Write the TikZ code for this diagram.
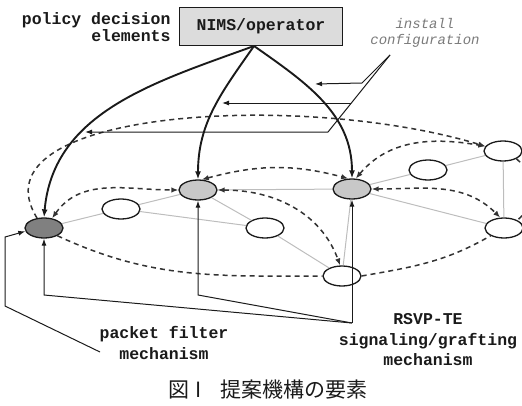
\documentclass[tikz,border=0pt]{standalone}
\usepackage{fontspec}
\newfontfamily\courfont{Liberation Mono}
\newfontfamily\jpfont{Noto Sans CJK JP}
\usetikzlibrary{shapes.geometric,arrows.meta}

\definecolor{ink}{HTML}{1A1A1A}
\definecolor{dashgray}{HTML}{333333}
\definecolor{linkgray}{HTML}{BDBDBD}
\definecolor{darknode}{HTML}{808080}
\definecolor{lightnode}{HTML}{C8C8C8}
\definecolor{boxfill}{HTML}{DCDCDC}
\definecolor{muted}{HTML}{7A7A7A}

\begin{document}
\begin{tikzpicture}[
  x=1pt,
  y=1pt,
  monotext/.style={font=\fontsize{16.5}{20.5}\selectfont\courfont\bfseries,text=ink,align=center},
  router/.style={ellipse,draw=ink,line width=1.3pt,fill=white,minimum width=38pt,
    minimum height=20pt,inner sep=0pt},
  link/.style={draw=linkgray,line width=1pt},
  peer/.style={draw=dashgray,line width=1.5pt,dash pattern=on 5pt off 4pt},
  peerboth/.style={peer,{Latex[length=7pt,width=5.5pt]}-{Latex[length=7pt,width=5.5pt]}},
  ctrl/.style={draw=ink,line width=1.9pt,-{Latex[length=8pt,width=6pt]}},
  feed/.style={draw=ink,line width=1pt,-{Latex[length=7pt,width=5pt]}}
]
\useasboundingbox (0,0) rectangle (522,-405);

% routers
\node[router,fill=darknode] (A) at (44,-228) {};
\node[router,fill=lightnode] (B) at (198,-190) {};
\node[router,fill=lightnode] (C) at (352,-189) {};
\node[router] (D) at (121,-209) {};
\node[router] (E) at (265,-228) {};
\node[router] (F) at (342,-276) {};
\node[router] (G) at (428,-170) {};
\node[router] (H) at (503,-151) {};
\node[router] (I) at (504,-228) {};

% physical links
\draw[link] (A) -- (D);
\draw[link] (D) -- (B);
\draw[link] (D) -- (E);
\draw[link] (B) -- (E);
\draw[link] (B) -- (C);
\draw[link] (E) -- (F);
\draw[link] (F) -- (C);
\draw[link] (C) -- (G);
\draw[link] (G) -- (H);
\draw[link] (C) -- (I);
\draw[link] (H) -- (I);

% dashed peering
\draw[peer,-{Latex[length=7pt,width=5.5pt]}] (A.125) .. controls (-30,-110) and (300,-90) .. (H.165);
\draw[peer] (H.-30) to[out=-40,in=40] (I.30);
\draw[peer] (A.-30) to[out=-25,in=180] (F.west);
\draw[peer] (F.east) to[out=10,in=-150] (I.-150);
\draw[peerboth] (A.50) to[out=55,in=180] (B.west);
\draw[peerboth] (B.70) to[out=15,in=165] (C.110);
\draw[peerboth] (B.east) to[out=0,in=110] (F.100);
\draw[peerboth] (C.east) to[out=0,in=135] (I.110);
\draw[peerboth] (C.70) to[out=50,in=170] (H.165);

% policy decision
\node[monotext,font=\fontsize{16.5}{17.5}\selectfont\courfont\bfseries,align=right,anchor=east]
  (policy) at (174,-27) {policy decision\\elements};
\node[monotext,draw=ink,line width=1pt,fill=boxfill,minimum width=163pt,minimum height=38pt]
  (nims) at (261,-26) {NIMS/operator};
\coordinate (tap) at (254,-46);
\draw[ctrl] (tap) to[out=200,in=85] (A.north);
\draw[ctrl] (tap) to[out=235,in=90] (B.north);
\draw[ctrl] (tap) to[out=-35,in=90] (C.north);

% install configuration
\node[font=\fontsize{14}{16}\selectfont\courfont\itshape,text=muted,align=center]
  (install) at (425,-33) {install\\configuration};
\coordinate (ic) at (390,-55);
\coordinate (icTop) at (362,-83);
\coordinate (icMid) at (351,-103);
\coordinate (icLow) at (328,-132);
\coordinate (hitC) at (315,-84);
\coordinate (hitB) at (222,-103);
\coordinate (hitA) at (85,-132);
\draw[feed] (ic) -- (icTop) -- (hitC);
\draw[feed] (ic) -- (icLow) -- (hitA);
\draw[feed] (icMid) -- (hitB);

% mechanisms
\node[monotext] (packet) at (164,-343) {packet filter\\mechanism};
\node[monotext] (rsvp) at (428,-340) {RSVP-TE\\signaling/grafting\\mechanism};
\coordinate (pfTail) at (100,-352);
\coordinate (pfBend) at (5,-306);
\coordinate (pfUp) at (5,-237);
\draw[feed] (pfTail) -- (pfBend) -- (pfUp) -- (A.190);
\coordinate (rsTail) at (352,-323);
\coordinate (rsFoot) at (0,-295);
\draw[feed] (rsTail) -- (A |- rsFoot) -- (A.south);
\draw[feed] (rsTail) -- (B |- rsFoot) -- (B.south);
\draw[feed] (rsTail) -- (C.south);

\node[font=\fontsize{21}{24}\selectfont\jpfont,text=ink] (caption) at (268,-390)
  {図\hspace{6pt}I\hspace{18pt}提案機構の要素};
\end{tikzpicture}
\end{document}
